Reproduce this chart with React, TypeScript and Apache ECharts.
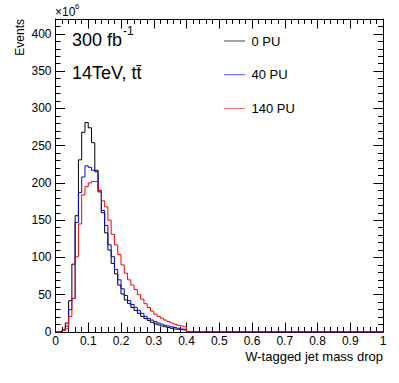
import React, { useEffect, useRef } from "react";
import * as echarts from "echarts";

// Histogram binning: 40 bins of width 0.01 on [0, 0.4]
const binWidth = 0.01;
const xMin = 0;
const xMax = 1;
const yMax = 420;

// Events (x10^6) per bin
const pu0 = [0, 0.5, 3, 12, 42, 91, 156, 231, 268, 281, 274, 254, 217, 188, 160, 133, 110, 92, 78, 63, 51, 43, 38, 33, 29, 25, 21, 18, 15.5, 13, 11, 9.5, 8, 7, 6, 5, 4, 3.5, 3, 2.5];
const pu40 = [0, 0.3, 2, 8, 30, 45, 147, 187, 208, 223, 221, 217, 215, 190, 163, 143, 117, 101, 84, 70, 58, 49, 42, 37, 33, 29, 25, 21, 18, 16, 14, 12, 10.5, 9, 8, 7, 6, 5, 4, 3.5];
const pu140 = [0, 0.3, 2, 5, 21, 45, 101, 145, 184, 195, 200, 202, 202, 190, 176, 168, 150, 131, 117, 104, 90, 79, 70, 63, 57, 50, 44, 38, 33, 28, 24, 21, 18.5, 16, 14, 12, 10.5, 9, 8, 7];

const seriesNames = ["0 PU", "40 PU", "140 PU"];
const seriesColors = ["#000000", "#0000ff", "#ff0000"];
const legendColors = ["#444444", "#5555ff", "#ff6666"];

const FONT = "'Liberation Sans', Arial, Helvetica, sans-serif";

function histPoints(values: number[]) {
  const pts: number[][] = values.map((v, i) => [i * binWidth, v]);
  pts.push([values.length * binWidth, 0]);
  pts.push([xMax, 0]);
  return pts;
}

export default function App() {
  const ref = useRef<HTMLDivElement>(null);
  useEffect(() => {
    if (!ref.current) return;
    const chart = echarts.init(ref.current, null, { renderer: "svg" });
    const tickStyle = { color: "#000", width: 1 };
    const xAxisDef = (grid: number, position: string, interval: number, len: number, labels: boolean, line: boolean) => ({
      type: "value",
      gridIndex: grid,
      position,
      min: xMin,
      max: xMax,
      interval,
      axisLine: { show: line, onZero: false, lineStyle: tickStyle },
      axisTick: { show: true, inside: true, length: len, lineStyle: tickStyle },
      splitLine: { show: false },
      axisLabel: labels
        ? {
            show: true,
            color: "#000",
            fontSize: 12,
            fontFamily: FONT,
            margin: 3,
            lineHeight: 12,
            formatter: (v: number) => String(Math.round(v * 10) / 10),
          }
        : { show: false },
    });
    const yAxisDef = (grid: number, position: string, interval: number, len: number, labels: boolean, line: boolean) => ({
      type: "value",
      gridIndex: grid,
      position,
      min: 0,
      max: yMax,
      interval,
      axisLine: { show: line, onZero: false, lineStyle: tickStyle },
      axisTick: { show: true, inside: true, length: len, lineStyle: tickStyle },
      splitLine: { show: false },
      axisLabel: labels
        ? {
            show: true,
            color: "#000",
            fontSize: 12,
            fontFamily: FONT,
            margin: 4,
            showMaxLabel: false,
            formatter: (v: number) => (v > 400 ? "" : String(v)),
          }
        : { show: false },
    });
    const datasets = [pu0, pu40, pu140];
    const legendGraphics: any[] = [];
    seriesNames.forEach((name, i) => {
      const cy = 41 + i * 33.7;
      legendGraphics.push({
        type: "line",
        shape: { x1: 224, y1: cy, x2: 245, y2: cy },
        style: { stroke: legendColors[i], lineWidth: 1 },
      });
      legendGraphics.push({
        type: "text",
        x: 251.5,
        y: cy,
        style: { text: name, fontSize: 13, fontFamily: FONT, fill: "#000", textVerticalAlign: "middle" },
      });
    });
    const gridBox = { left: 55.5, right: 16, top: 19, bottom: 51, containLabel: false };
    chart.setOption({
      animation: false,
      backgroundColor: "#ffffff",
      grid: [gridBox, gridBox],
      xAxis: [
        xAxisDef(0, "bottom", 0.1, 9.5, true, true),
        xAxisDef(0, "top", 0.1, 9.5, false, true),
        xAxisDef(1, "bottom", 0.02, 5, false, false),
        xAxisDef(1, "top", 0.02, 5, false, false),
      ],
      yAxis: [
        yAxisDef(0, "left", 50, 9.5, true, true),
        yAxisDef(0, "right", 50, 9.5, false, true),
        yAxisDef(1, "left", 10, 5, false, false),
        yAxisDef(1, "right", 10, 5, false, false),
      ],
      series: datasets.map((d, i) => ({
        name: seriesNames[i],
        type: "line",
        step: "end",
        symbol: "none",
        showSymbol: false,
        xAxisIndex: 0,
        yAxisIndex: 0,
        data: histPoints(d),
        lineStyle: { color: seriesColors[i], width: 1 },
        itemStyle: { color: seriesColors[i] },
        z: 2 + i,
      })),
      graphic: [
        {
          type: "text",
          x: 55,
          y: 12,
          style: { text: "×10", fontSize: 12, fontFamily: FONT, fill: "#000", textVerticalAlign: "middle" },
        },
        {
          type: "text",
          x: 75,
          y: 6,
          style: { text: "6", fontSize: 8, fontFamily: FONT, fill: "#000", textVerticalAlign: "middle" },
        },
        {
          type: "text",
          x: 20,
          y: 19,
          rotation: Math.PI / 2,
          style: {
            text: "Events",
            fontSize: 12,
            fontFamily: FONT,
            fill: "#000",
            textAlign: "right",
            textVerticalAlign: "middle",
          },
        },
        {
          type: "text",
          x: 383,
          y: 356,
          style: {
            text: "W-tagged jet mass drop",
            fontSize: 13,
            fontFamily: FONT,
            fill: "#000",
            textAlign: "right",
            textVerticalAlign: "middle",
          },
        },
        {
          type: "text",
          x: 72,
          y: 40,
          style: { text: "300 fb", fontSize: 18, fontFamily: FONT, fill: "#000", textVerticalAlign: "middle" },
        },
        {
          type: "text",
          x: 123,
          y: 31,
          style: { text: "-1", fontSize: 12, fontFamily: FONT, fill: "#000", textVerticalAlign: "middle" },
        },
        {
          type: "text",
          x: 72,
          y: 73,
          style: { text: "14TeV, tt\u0304", fontSize: 18, fontFamily: FONT, fill: "#000", textVerticalAlign: "middle" },
        },
        ...legendGraphics,
      ],
    });
    return () => chart.dispose();
  }, []);
  return (
    <div
      ref={ref}
      style={{ position: "absolute", left: 0, top: 0, width: 399, height: 383, background: "#fff" }}
    />
  );
}
